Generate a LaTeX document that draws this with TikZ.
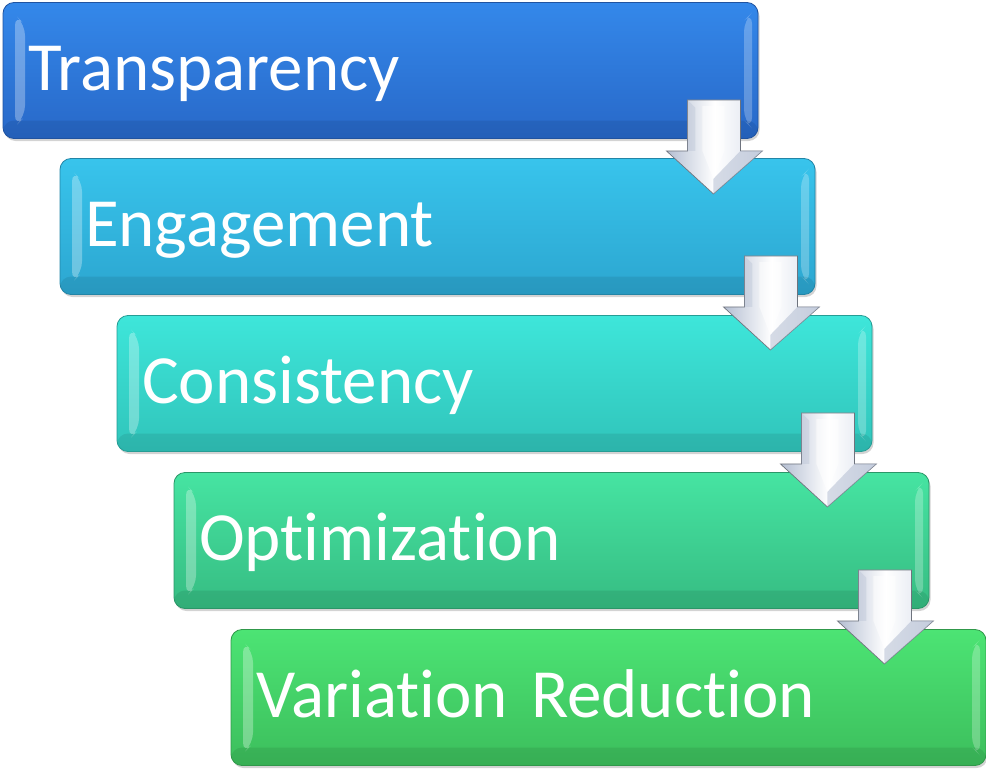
\documentclass[tikz,border=0pt]{standalone}
\usepackage{fontspec}
\setmainfont[Ligatures=NoCommon]{Carlito}
\usepackage{tikz}
\usetikzlibrary{calc,shadows}

\definecolor{transpTop}{RGB}{52,136,234}
\definecolor{transpBot}{RGB}{40,104,200}
\definecolor{engageTop}{RGB}{56,196,236}
\definecolor{engageBot}{RGB}{44,166,208}
\definecolor{consistTop}{RGB}{62,230,218}
\definecolor{consistBot}{RGB}{48,196,186}
\definecolor{optimTop}{RGB}{70,228,162}
\definecolor{optimBot}{RGB}{54,188,130}
\definecolor{varredTop}{RGB}{76,228,116}
\definecolor{varredBot}{RGB}{60,190,92}
\definecolor{flowEdge}{RGB}{110,115,125}
\definecolor{flowGrey}{RGB}{180,190,210}
\definecolor{flowPale}{RGB}{218,224,236}

% one down arrow under the lower right corner of a box
\newcommand{\flowdown}[1]{%
  \begin{scope}[shift={(#1.south east)}]
    \path [flow] (-71,-39) -- (-18,-39) -- (-18,12) -- (4,12) -- (-45,55)
      -- (-92,12) -- (-71,12) -- cycle;
    \fill [white, opacity=0.5] (-56,-33) -- (-34,-33) -- (-34,12) -- (-45,40)
      -- (-56,12) -- cycle;
    \fill [flowGrey, opacity=0.55] (-45,55) -- (4,12) -- (-18,12) -- (-45,40) -- cycle;
    \fill [flowGrey, opacity=0.35] (-71,-39) -- (-63,-31) -- (-63,12) -- (-71,12) -- cycle;
  \end{scope}}

\begin{document}
\begin{tikzpicture}
  [x=1pt, y=-1pt,
  box/.style={rectangle, rounded corners=11pt, minimum width=755pt,
    minimum height=136pt, text width=705pt, inner xsep=25pt, align=left,
    text height=56pt, text depth=16pt, text=white,
    font=\fontsize{69}{80}\selectfont, line width=0.8pt,
    drop shadow={opacity=0.35, shadow xshift=1.5pt, shadow yshift=-2.5pt},
    path picture={
      \fill [white, opacity=0.3]
        ([xshift=12pt,yshift=-12pt]path picture bounding box.north west)
        -- ([xshift=22pt,yshift=-22pt]path picture bounding box.north west)
        -- ([xshift=22pt,yshift=22pt]path picture bounding box.south west)
        -- ([xshift=12pt,yshift=12pt]path picture bounding box.south west) -- cycle;
      \fill [white, opacity=0.25]
        ([xshift=-6pt,yshift=-10pt]path picture bounding box.north east)
        -- ([xshift=-14pt,yshift=-18pt]path picture bounding box.north east)
        -- ([xshift=-14pt,yshift=18pt]path picture bounding box.south east)
        -- ([xshift=-6pt,yshift=10pt]path picture bounding box.south east) -- cycle;
      \fill [black, opacity=0.08]
        ([yshift=18pt]path picture bounding box.south west)
        rectangle (path picture bounding box.south east);
    }},
  flow/.style={draw=flowEdge, line width=0.7pt, line join=miter,
    left color=flowGrey, right color=flowPale, middle color=white}]

  \useasboundingbox (0,0) rectangle (986,771);

  % boxes
  \node [box, top color=transpTop, bottom color=transpBot, draw=transpBot!80!black]
    (transp) at (380.5,70.5) {Transparency};
  \node [box, top color=engageTop, bottom color=engageBot, draw=engageBot!80!black]
    (engage) at (437.5,226.5) {Engagement};
  \node [box, top color=consistTop, bottom color=consistBot, draw=consistBot!80!black]
    (consist) at (494.5,383.5) {Consistency};
  \node [box, top color=optimTop, bottom color=optimBot, draw=optimBot!80!black]
    (optim) at (551.5,540.5) {Optimization};
  \node [box, top color=varredTop, bottom color=varredBot, draw=varredBot!80!black]
    (varred) at (608.5,697.5) {Variation Reduction};

  % arrows
  \flowdown{transp}
  \flowdown{engage}
  \flowdown{consist}
  \flowdown{optim}

\end{tikzpicture}
\end{document}
